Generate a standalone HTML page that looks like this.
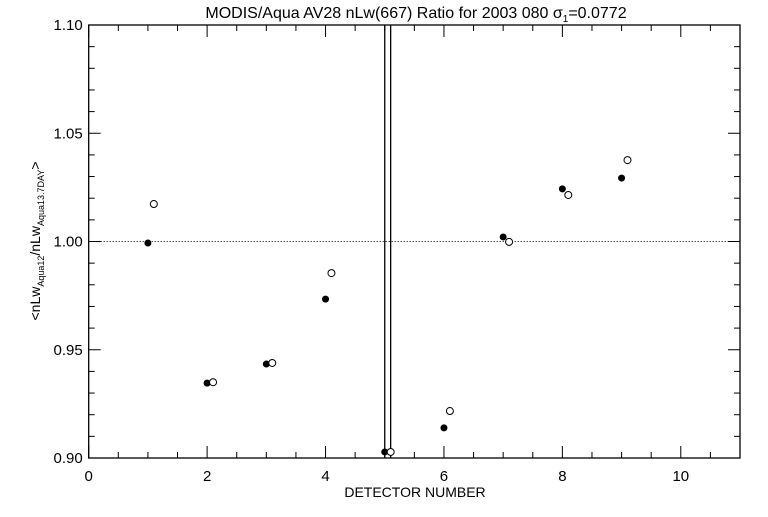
<!DOCTYPE html>
<html><head><meta charset="utf-8"><style>
html,body{margin:0;padding:0;background:#fff;}
svg text{font-family:"Liberation Sans",sans-serif;fill:#000;}
</style></head><body>
<svg id="chart" width="768" height="512" viewBox="0 0 768 512" xmlns="http://www.w3.org/2000/svg">
<rect width="768" height="512" fill="#fff"/>
<text x="416" y="18" font-size="16" text-anchor="middle">MODIS/Aqua AV28 nLw(667) Ratio for 2003 080 σ<tspan font-size="10" dy="4">1</tspan><tspan dy="-4">=0.0772</tspan></text>
<g id="axes"></g>
<g id="marks"></g>
<text x="415" y="497" font-size="14" text-anchor="middle">DETECTOR NUMBER</text>
<text transform="translate(40,241) rotate(-90)" font-size="14" text-anchor="middle">&lt;nLw<tspan font-size="9" dy="4">Aqua12</tspan><tspan dy="-4">/nLw</tspan><tspan font-size="9" dy="4">Aqua13.7DAY</tspan><tspan dy="-4">&gt;</tspan></text>
</svg>
<script>
const detectors=[1,2,3,4,5,6,7,8,9];
const filledVals=[0.9993,0.9346,0.9434,0.9734,0.9028,0.9139,1.0021,1.0243,1.0293];
const openVals=[1.0173,0.9350,0.9439,0.9854,0.9028,0.9217,0.9998,1.0215,1.0376];
const xTicks=[0,2,4,6,8,10];
const yTicks=[0.90,0.95,1.00,1.05,1.10];
const yTickLabels=["0.90","0.95","1.00","1.05","1.10"];
const markerLines=[5.0,5.1];
const refLine=1.0;
const L=88.7,R=740,T=25,B=458,XMIN=0,XMAX=11,YMIN=0.9,YMAX=1.1;
const xs=v=>L+(v-XMIN)/(XMAX-XMIN)*(R-L);
const ys=v=>B-(v-YMIN)/(YMAX-YMIN)*(B-T);
const NS="http://www.w3.org/2000/svg";
function mk(tag,attrs,parent){const e=document.createElementNS(NS,tag);for(const k in attrs)e.setAttribute(k,attrs[k]);parent.appendChild(e);return e;}
const ax=document.getElementById('axes'),mg=document.getElementById('marks');
const frame=mk('rect',{x:L,y:T,width:R-L,height:B-T,fill:'none',stroke:'#000','stroke-width':1.3},ax);


for(let v=0;v<=11.001;v+=0.5){const major=Math.abs(v/2-Math.round(v/2))<1e-6;const len=major?12:6;const x=xs(v);
mk('line',{x1:x,y1:B,x2:x,y2:B-len,stroke:'#000'},ax);mk('line',{x1:x,y1:T,x2:x,y2:T+len,stroke:'#000'},ax);}
xTicks.forEach(v=>{const t=mk('text',{x:xs(v),y:B+23,'font-size':15,'text-anchor':'middle'},ax);t.textContent=String(v);

});
for(let i=0;i<=20;i++){const v=0.9+i*0.01;const major=i%5===0;const len=major?12:6;const y=ys(v);
mk('line',{x1:L,y1:y,x2:L+len,y2:y,stroke:'#000'},ax);mk('line',{x1:R,y1:y,x2:R-len,y2:y,stroke:'#000'},ax);}
yTicks.forEach((v,i)=>{const t=mk('text',{x:L-6,y:ys(v)+5,'font-size':15,'text-anchor':'end'},ax);t.textContent=yTickLabels[i];

});
const rl=mk('line',{x1:L,x2:R,y1:ys(refLine),y2:ys(refLine),stroke:'#000','stroke-dasharray':'1,2'},ax);


markerLines.forEach(v=>{const l=mk('line',{x1:xs(v),x2:xs(v),y1:T,y2:B,stroke:'#000','stroke-width':1.3},ax);

});
detectors.forEach((d,i)=>{
const f=mk('circle',{cx:xs(d),cy:ys(filledVals[i]),r:3.5,fill:'#000'},mg);


const o=mk('circle',{cx:xs(d+0.1),cy:ys(openVals[i]),r:3.5,fill:'#fff',stroke:'#000'},mg);

});
</script>
</body></html>
